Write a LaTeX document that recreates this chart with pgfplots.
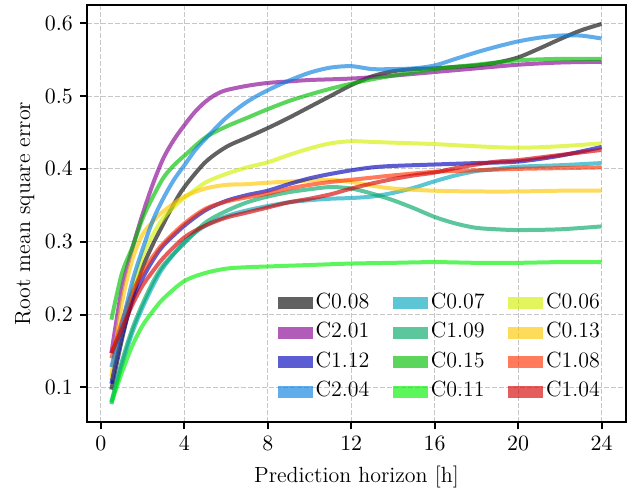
\documentclass[border=0pt]{standalone}
\usepackage{pgfplots}
\pgfplotsset{compat=1.18}

% nipy_spectral-like colours, drawn semi-transparent
\definecolor{cA}{rgb}{0.03,0.03,0.03}   % C0.08
\definecolor{cB}{rgb}{0.52,0.00,0.57}   % C2.01
\definecolor{cC}{rgb}{0.00,0.00,0.73}   % C1.12
\definecolor{cD}{rgb}{0.03,0.49,0.87}   % C2.04
\definecolor{cE}{rgb}{0.00,0.65,0.74}   % C0.07
\definecolor{cF}{rgb}{0.00,0.65,0.40}   % C1.09
\definecolor{cG}{rgb}{0.00,0.74,0.00}   % C0.15
\definecolor{cH}{rgb}{0.00,0.94,0.00}   % C0.11
\definecolor{cI}{rgb}{0.82,0.94,0.00}   % C0.06
\definecolor{cJ}{rgb}{1.00,0.78,0.00}   % C0.13
\definecolor{cK}{rgb}{1.00,0.19,0.00}   % C1.08
\definecolor{cL}{rgb}{0.83,0.00,0.00}   % C1.04

\newcommand{\fs}{\fontsize{11}{13}\selectfont}

\begin{document}
\begin{tikzpicture}
\begin{axis}[
    scale only axis,
    width=270pt, height=209pt,
    xmin=-0.675, xmax=25.175,
    ymin=0.052, ymax=0.625,
    xtick={0,4,8,12,16,20,24},
    ytick={0.1,0.2,0.3,0.4,0.5,0.6},
    yticklabel style={/pgf/number format/.cd, fixed, fixed zerofill, precision=1},
    tick label style={font=\fs},
    label style={font=\fs},
    tick pos=left,
    tick align=outside,
    major tick length=3.5pt,
    tick style={line width=1pt, black},
    axis line style={line width=1pt},
    grid=major,
    grid style={dash pattern=on 2.5pt off 1pt, black!22, line width=0.5pt},
    xlabel={Prediction horizon [h]},
    ylabel={Root mean square error},
    xlabel style={at={(axis description cs:0.5,-0.1435)}, anchor=base},
    ylabel style={at={(axis description cs:-0.115,0.5)}, anchor=center},
    every axis plot/.append style={line width=2pt, opacity=0.64, smooth},
    legend columns=3,
    legend cell align=left,
    legend image code/.code={\fill[#1, draw=none] (0pt,-3pt) rectangle (17.5pt,3pt);},
    legend style={at={(0.353,0.31)}, anchor=north west, draw=none, fill=none,
        inner sep=0pt, font=\fs, row sep=4.75pt,
        nodes={inner xsep=1.5pt, inner ysep=0pt, text height=7.5pt, text depth=2.5pt},
        /tikz/every even column/.append style={column sep=10.3pt}},
]
% row-major order so the 3-column legend reads like the reference
\addplot[color=cA] coordinates {(0.5,0.097)(1,0.165)(1.5,0.222)(2,0.265)(2.5,0.297)(3,0.325)(3.5,0.352)(4,0.375)(5,0.409)(6,0.430)(7,0.443)(8,0.456)(9,0.470)(10,0.485)(11,0.500)(12,0.515)(13,0.527)(14,0.534)(15,0.537)(16,0.538)(17,0.540)(18,0.542)(19,0.546)(20,0.553)(21,0.565)(22,0.578)(23,0.590)(24,0.599)};
\addlegendentry{C0.08}
\addplot[color=cE] coordinates {(0.5,0.077)(1,0.130)(1.5,0.175)(2,0.210)(2.5,0.240)(3,0.265)(4,0.300)(5,0.322)(6,0.335)(7,0.343)(8,0.349)(9,0.354)(10,0.357)(11,0.359)(12,0.360)(13,0.362)(14,0.367)(15,0.374)(16,0.383)(17,0.391)(18,0.397)(19,0.400)(20,0.403)(22,0.405)(24,0.408)};
\addlegendentry{C0.07}
\addplot[color=cI] coordinates {(0.5,0.110)(1,0.175)(1.5,0.235)(2,0.280)(2.5,0.310)(3,0.333)(3.5,0.348)(4,0.360)(5,0.381)(6,0.393)(7,0.402)(8,0.409)(9,0.419)(10,0.428)(11,0.435)(12,0.438)(13,0.437)(14,0.436)(16,0.434)(18,0.431)(20,0.429)(22,0.431)(24,0.435)};
\addlegendentry{C0.06}
\addplot[color=cB] coordinates {(0.5,0.147)(1,0.235)(1.5,0.290)(2,0.338)(2.5,0.380)(3,0.415)(3.5,0.440)(4,0.460)(4.5,0.478)(5,0.492)(5.5,0.502)(6,0.508)(7,0.514)(8,0.518)(9,0.520)(10,0.522)(12,0.524)(14,0.528)(16,0.533)(18,0.538)(20,0.543)(22,0.546)(24,0.547)};
\addlegendentry{C2.01}
\addplot[color=cF] coordinates {(0.5,0.080)(1,0.135)(1.5,0.180)(2,0.215)(2.5,0.245)(3,0.268)(4,0.298)(5,0.326)(6,0.342)(7,0.354)(8,0.362)(9,0.368)(10,0.372)(11,0.375)(12,0.373)(13,0.366)(14,0.357)(15,0.346)(16,0.334)(17,0.325)(18,0.319)(19,0.317)(20,0.316)(22,0.317)(24,0.321)};
\addlegendentry{C1.09}
\addplot[color=cJ] coordinates {(0.5,0.115)(1,0.215)(1.5,0.275)(2,0.310)(2.5,0.328)(3,0.342)(4,0.362)(5,0.373)(6,0.378)(7,0.379)(8,0.381)(10,0.384)(11,0.385)(12,0.382)(13,0.377)(14,0.373)(16,0.370)(18,0.369)(20,0.369)(22,0.370)(24,0.370)};
\addlegendentry{C0.13}
\addplot[color=cC] coordinates {(0.5,0.105)(1,0.170)(1.5,0.218)(2,0.250)(2.5,0.275)(3,0.295)(4,0.322)(5,0.343)(6,0.356)(7,0.364)(8,0.370)(9,0.379)(10,0.387)(11,0.393)(12,0.398)(13,0.402)(14,0.404)(16,0.406)(18,0.408)(20,0.410)(22,0.418)(24,0.430)};
\addlegendentry{C1.12}
\addplot[color=cG] coordinates {(0.5,0.193)(1,0.256)(1.5,0.292)(2,0.332)(2.5,0.362)(3,0.388)(3.5,0.405)(4,0.418)(5,0.443)(6,0.458)(7,0.470)(8,0.482)(9,0.493)(10,0.502)(11,0.510)(12,0.517)(13,0.523)(14,0.528)(16,0.537)(18,0.543)(20,0.549)(22,0.551)(24,0.551)};
\addlegendentry{C0.15}
\addplot[color=cK] coordinates {(0.5,0.140)(1,0.190)(1.5,0.230)(2,0.258)(2.5,0.280)(3,0.298)(4,0.325)(5,0.345)(6,0.355)(7,0.361)(8,0.366)(9,0.373)(10,0.378)(11,0.382)(12,0.385)(13,0.388)(14,0.391)(16,0.396)(18,0.398)(20,0.400)(22,0.401)(24,0.402)};
\addlegendentry{C1.08}
\addplot[color=cD] coordinates {(0.5,0.128)(1,0.185)(1.5,0.245)(2,0.290)(2.5,0.330)(3,0.360)(3.5,0.385)(4,0.405)(4.5,0.425)(5,0.441)(6,0.470)(7,0.492)(8,0.508)(9,0.521)(10,0.532)(11,0.539)(12,0.541)(13,0.537)(14,0.537)(15,0.538)(16,0.542)(17,0.551)(18,0.560)(19,0.568)(20,0.575)(21,0.580)(22,0.583)(23,0.583)(24,0.579)};
\addlegendentry{C2.04}
\addplot[color=cH] coordinates {(0.5,0.079)(1,0.120)(1.5,0.157)(2,0.185)(2.5,0.205)(3,0.222)(4,0.246)(5,0.257)(6,0.263)(7,0.265)(8,0.266)(10,0.268)(12,0.270)(14,0.271)(16,0.272)(18,0.271)(20,0.271)(22,0.272)(24,0.272)};
\addlegendentry{C0.11}
\addplot[color=cL] coordinates {(0.5,0.147)(1,0.180)(1.5,0.213)(2,0.240)(2.5,0.260)(3,0.278)(4,0.306)(5,0.322)(6,0.333)(7,0.340)(8,0.347)(9,0.354)(10,0.359)(11,0.365)(12,0.373)(13,0.380)(14,0.386)(15,0.391)(16,0.395)(17,0.401)(18,0.406)(19,0.410)(20,0.412)(22,0.419)(24,0.426)};
\addlegendentry{C1.04}
\end{axis}
\path ([xshift=-43.5pt,yshift=-34.5pt]current axis.south west) rectangle ([xshift=6pt,yshift=2.5pt]current axis.north east);
\end{tikzpicture}
\end{document}
